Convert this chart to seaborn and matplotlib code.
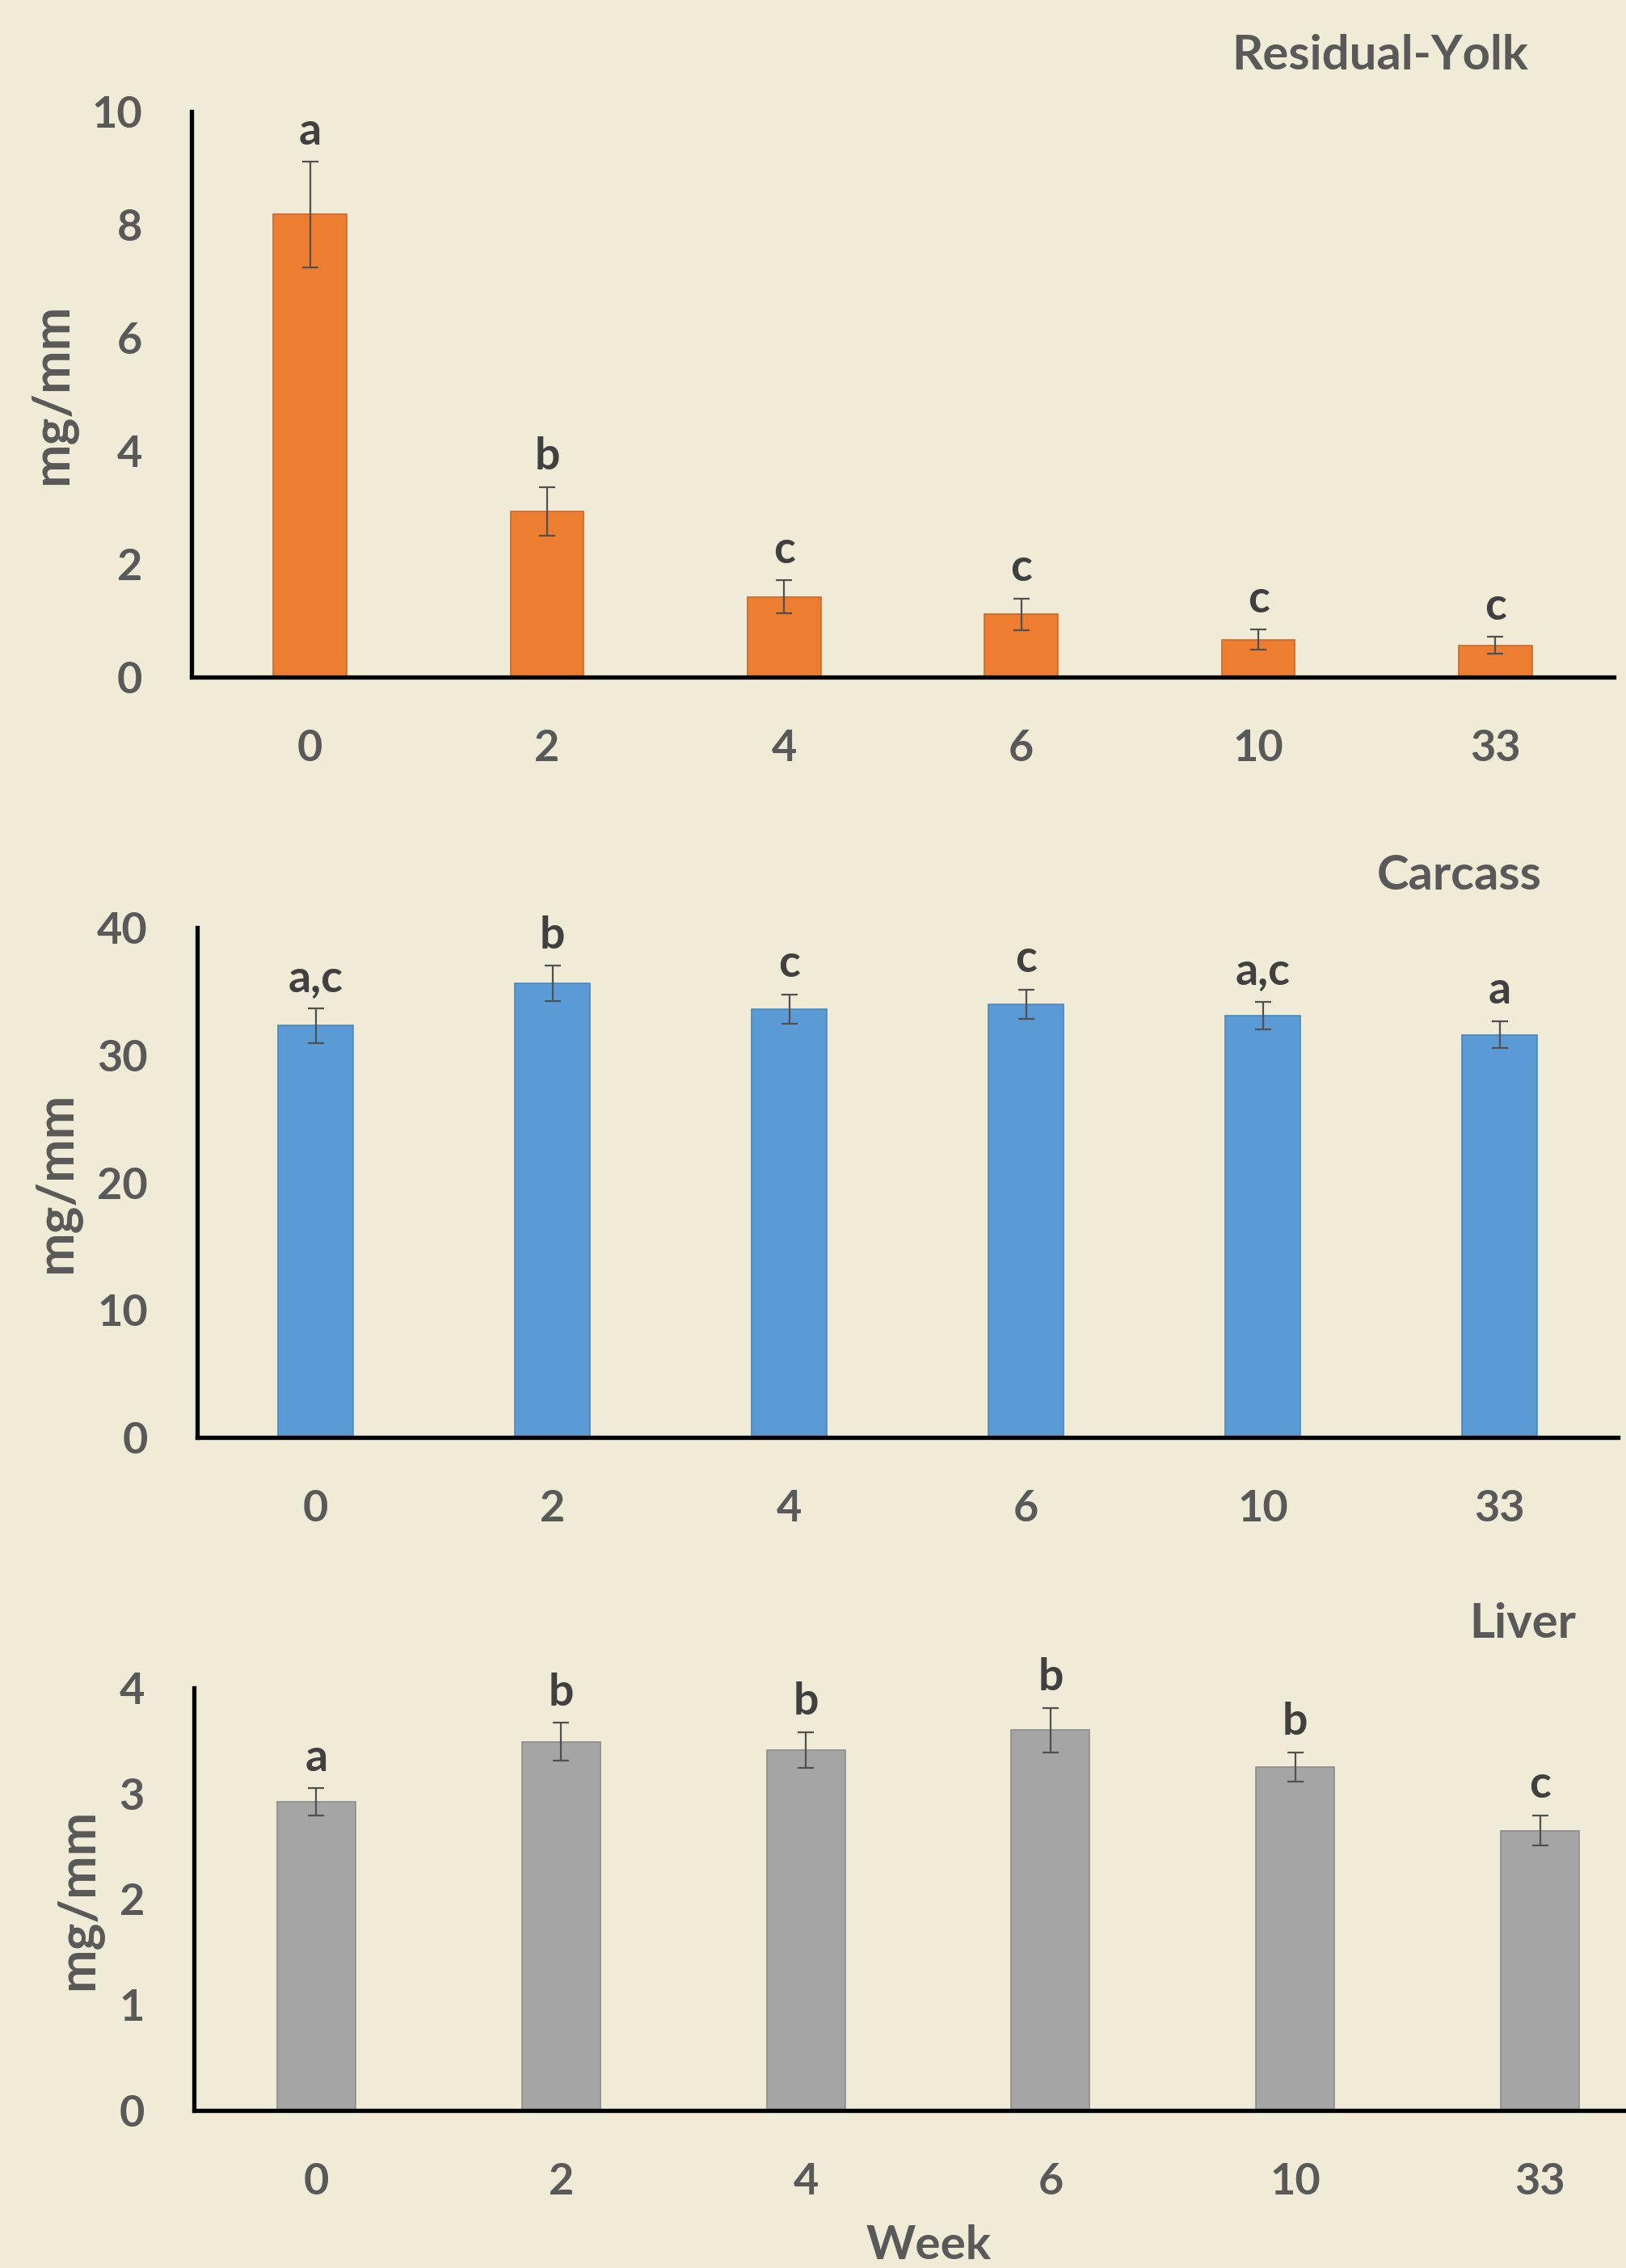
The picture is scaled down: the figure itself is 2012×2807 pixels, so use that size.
import matplotlib
matplotlib.use("Agg")
import matplotlib.pyplot as plt
import seaborn as sns
import numpy as np

# ---------------- data ----------------
weeks = ["0", "2", "4", "6", "10", "33"]

yolk_mean = [8.18, 2.93, 1.42, 1.11, 0.66, 0.56]
yolk_err = [0.93, 0.43, 0.29, 0.28, 0.18, 0.15]
yolk_letters = ["a", "b", "c", "c", "c", "c"]

carcass_mean = [32.3, 35.6, 33.6, 34.0, 33.1, 31.6]
carcass_err = [1.35, 1.40, 1.15, 1.15, 1.08, 1.05]
carcass_letters = ["a,c", "b", "c", "c", "a,c", "a"]

liver_mean = [2.92, 3.49, 3.41, 3.60, 3.25, 2.65]
liver_err = [0.13, 0.18, 0.17, 0.21, 0.14, 0.145]
liver_letters = ["a", "b", "b", "b", "b", "c"]

titles = ["Residual-Yolk", "Carcass", "Liver"]
y_label = "mg/mm"
x_label = "Week"
yticks_list = [[0, 2, 4, 6, 8, 10], [0, 10, 20, 30, 40], [0, 1, 2, 3, 4]]

# ---------------- style ----------------
W, H = 2012, 2807
BG = "#EFEBD6"
TXT = "#595959"
sns.set_theme(style="white")
plt.rcParams["font.family"] = ["Lato", "DejaVu Sans"]
plt.rcParams["font.weight"] = "bold"

fig = plt.figure(figsize=(W / 100, H / 100), dpi=100, facecolor=BG)

def px_rect(left, right, top, bottom):
    return [left / W, 1 - bottom / H, (right - left) / W, (bottom - top) / H]

panels = [
    dict(mean=yolk_mean, err=yolk_err, letters=yolk_letters, color="#ED7D31",
         edge="#C8692A", rect=px_rect(237, 1997, 138, 838), ylab_x=-0.098,
         title_xy=(1891, 69), width=0.31),
    dict(mean=carcass_mean, err=carcass_err, letters=carcass_letters, color="#5B9BD5",
         edge="#4E86B8", rect=px_rect(244, 2002, 1148, 1779), ylab_x=-0.099,
         title_xy=(1908, 1084), width=0.32),
    dict(mean=liver_mean, err=liver_err, letters=liver_letters, color="#A5A5A5",
         edge="#8C8C8C", rect=px_rect(240, 2057, 2089, 2612), ylab_x=-0.079,
         title_xy=(1950, 2010), width=0.32),
]

for k, p in enumerate(panels):
    ax = fig.add_axes(p["rect"])
    ax.set_facecolor(BG)
    sns.barplot(x=weeks, y=p["mean"], order=weeks, color=p["color"], saturation=1,
                width=p["width"], edgecolor=p["edge"], linewidth=1.2, ax=ax)
    xs = np.arange(len(weeks))
    ax.errorbar(xs, p["mean"], yerr=p["err"], fmt="none", ecolor="#505050",
                elinewidth=1.6, capsize=7, capthick=1.6, zorder=5)
    for xi, m, e, lab in zip(xs, p["mean"], p["err"], p["letters"]):
        ax.annotate(lab, (xi, m + e), xytext=(0, 9), textcoords="offset points",
                    ha="center", va="bottom", fontsize=40, color="#404040",
                    fontweight="bold", annotation_clip=False)
    yt = yticks_list[k]
    ax.set_ylim(0, yt[-1])
    ax.set_yticks(yt)
    ax.set_xlim(-0.5, len(weeks) - 0.5)
    for s in ["top", "right"]:
        ax.spines[s].set_visible(False)
    for s in ["left", "bottom"]:
        ax.spines[s].set_color("black")
        ax.spines[s].set_linewidth(3.8)
    ax.tick_params(axis="both", length=0, labelsize=39, labelcolor=TXT)
    ax.tick_params(axis="x", pad=46)
    ax.tick_params(axis="y", pad=44)
    ax.set_ylabel(y_label, fontsize=46, color=TXT, fontweight="bold", va="center")
    ax.yaxis.set_label_coords(p["ylab_x"], 0.5)
    if k == 2:
        ax.set_xlabel(x_label, fontsize=42, color=TXT, fontweight="bold", labelpad=20)
    else:
        ax.set_xlabel("")
    tx, ty = p["title_xy"]
    fig.text(tx / W, 1 - ty / H, titles[k], ha="right", va="center",
             fontsize=43, color=TXT, fontweight="bold")

fig.savefig("out.png", dpi=100, facecolor=BG)
